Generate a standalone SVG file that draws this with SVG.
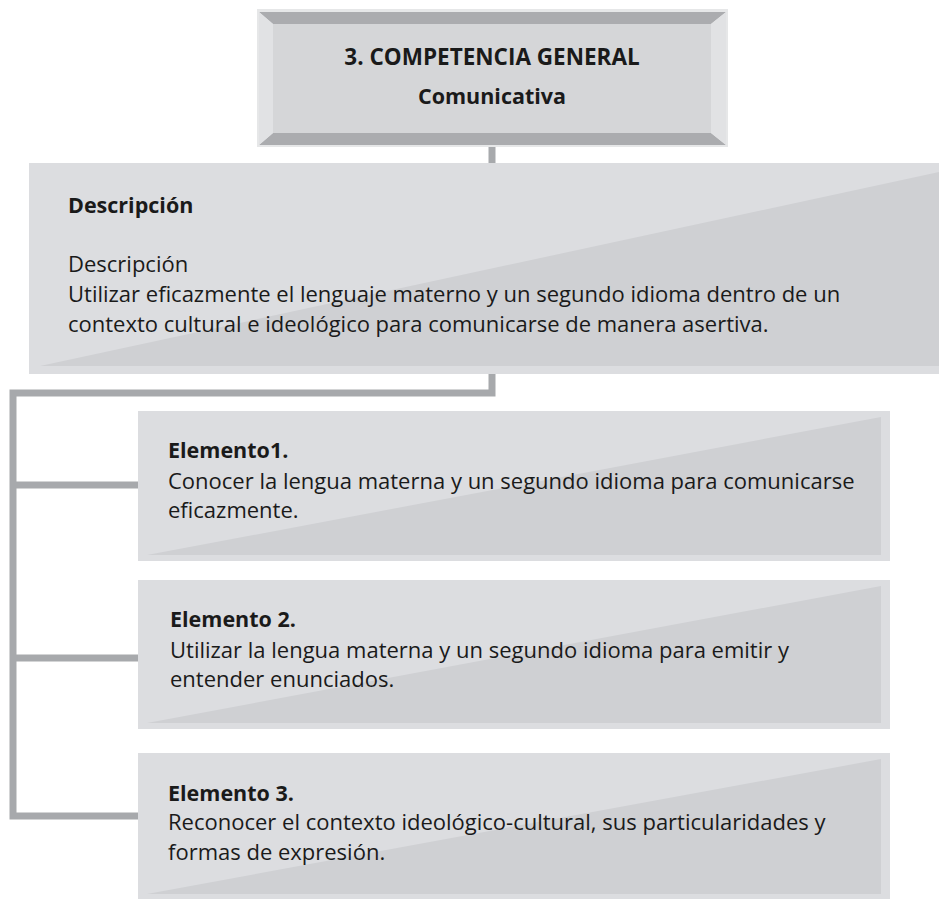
<svg xmlns="http://www.w3.org/2000/svg" width="939" height="899" viewBox="0 0 939 899">
<style>
.outer{fill:#dcdde0}
.inner{fill:#cfd0d3}
.conn{fill:none;stroke:#a7a9ac;stroke-width:7}
text{font-family:"Open Sans","Liberation Sans",sans-serif;fill:#1a1a1a}
.b{font-weight:bold}
.t{font-size:22px}
.h{font-size:21.5px;font-weight:bold}
</style>
<rect width="939" height="899" fill="#ffffff"/>
<g id="connectors">
<path class="conn" d="M492 147V163"/>
<path class="conn" d="M492 373V393H13V816H138"/>
<path class="conn" d="M13 485H138"/>
<path class="conn" d="M13 658H138"/>
</g>
<g id="competencia">
<rect x="257" y="9" width="471" height="138" fill="#e6e7e8"/>
<polygon points="259,12 726,12 711,24 273,24" fill="#abacaf"/>
<polygon points="259,145 726,145 711,133 273,133" fill="#abacaf"/>
<polygon points="259,12 273,24 273,133 259,145" fill="#e1e2e4"/>
<polygon points="726,12 711,24 711,133 726,145" fill="#e1e2e4"/>
<rect x="273" y="24" width="438" height="109" fill="#d5d6d8"/>
<text x="492" y="65" text-anchor="middle" class="b" style="font-size:22.5px">3. COMPETENCIA GENERAL</text>
<text x="492" y="104" text-anchor="middle" class="b" style="font-size:21.5px">Comunicativa</text>
</g>
<g id="descripcion">
<rect class="outer" x="29" y="163" width="910" height="211"/>
<polygon class="inner" points="40,366 939,172 939,366"/>
<text x="68" y="213" class="h">Descripción</text>
<text x="68" y="272" class="t">Descripción</text>
<text x="68" y="302" class="t">Utilizar eficazmente el lenguaje materno y un segundo idioma dentro de un</text>
<text x="68" y="332" class="t">contexto cultural e ideológico para comunicarse de manera asertiva.</text>
</g>
<g id="elemento1">
<rect class="outer" x="138" y="411" width="752" height="150"/>
<polygon class="inner" points="147,555 881,417 881,555"/>
<text x="168" y="458" class="h">Elemento1.</text>
<text x="168" y="489" class="t">Conocer la lengua materna y un segundo idioma para comunicarse</text>
<text x="168" y="518" class="t">eficazmente.</text>
</g>
<g id="elemento2">
<rect class="outer" x="138" y="580" width="752" height="149"/>
<polygon class="inner" points="147,723 881,586 881,723"/>
<text x="170" y="627" class="h">Elemento 2.</text>
<text x="170" y="658" class="t">Utilizar la lengua materna y un segundo idioma para emitir y</text>
<text x="170" y="687" class="t">entender enunciados.</text>
</g>
<g id="elemento3">
<rect class="outer" x="138" y="753" width="752" height="146"/>
<polygon class="inner" points="147,894 881,759 881,894"/>
<text x="168" y="801" class="h">Elemento 3.</text>
<text x="168" y="830" class="t">Reconocer el contexto ideológico-cultural, sus particularidades y</text>
<text x="168" y="860" class="t">formas de expresión.</text>
</g>
</svg>
